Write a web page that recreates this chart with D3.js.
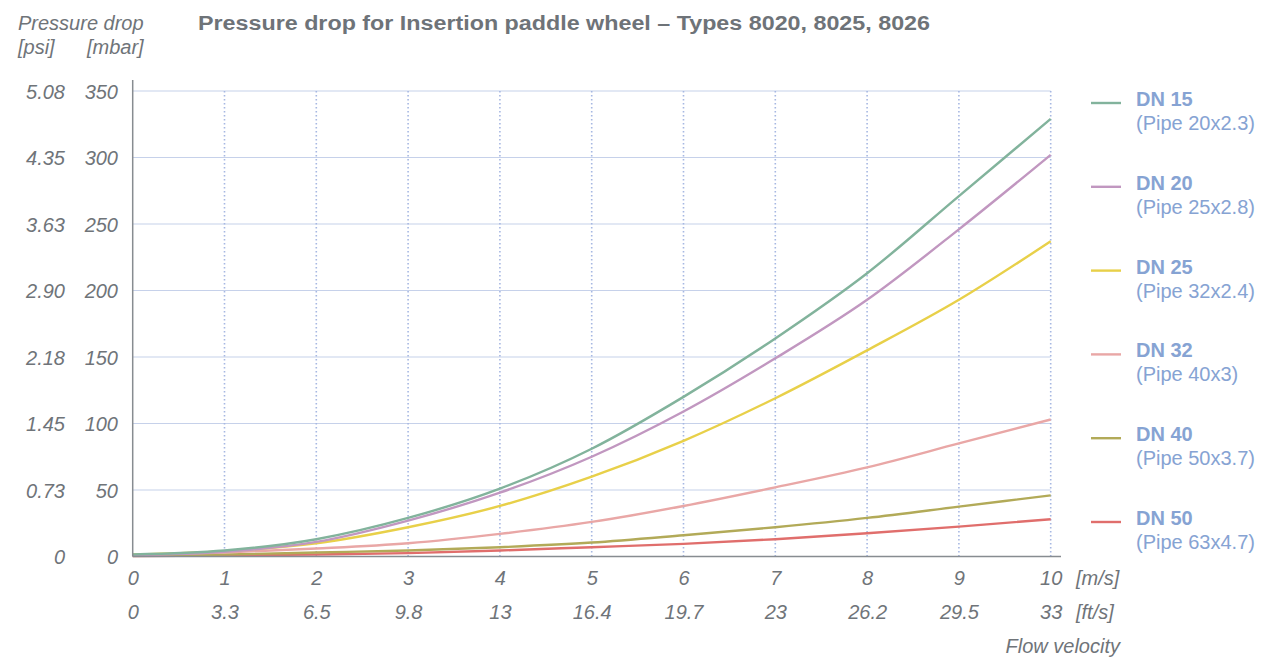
<!DOCTYPE html>
<html>
<head>
<meta charset="utf-8">
<script src="https://cdn.jsdelivr.net/npm/d3@7"></script>
<style>
  body { margin: 0; background: #fff; }
  text { font-family: "Liberation Sans", Arial, sans-serif; }
</style>
</head>
<body>
<script>
// flow velocity [m/s] and the matching ft/s labels
const velocity = [0, 1, 2, 3, 4, 5, 6, 7, 8, 9, 10];
const ftsLabels = ["0", "3.3", "6.5", "9.8", "13", "16.4", "19.7", "23", "26.2", "29.5", "33"];

// mbar ticks and the psi labels next to them
const mbarTicks = [0, 50, 100, 150, 200, 250, 300, 350];
const psiLabels = ["0", "0.73", "1.45", "2.18", "2.90", "3.63", "4.35", "5.08"];

// pressure drop [mbar] read at each velocity
const dn15 = [1.5, 4.5, 13, 29, 51, 81, 120, 164, 213, 271, 329];
const dn20 = [1, 3.5, 11, 27, 48, 75, 109, 149, 193, 246, 302];
const dn25 = [1.5, 4, 10, 22, 38, 60, 87, 119, 155, 193, 237];
const dn32 = [1, 3, 6, 10, 17, 26, 38, 52, 67, 85, 103];
const dn40 = [0.5, 1.5, 3, 4.5, 7, 10.5, 16, 22, 29, 37.5, 46];
const dn50 = [0.3, 0.8, 1.5, 2.5, 4.5, 7, 9.5, 13, 17.5, 22.5, 28];

const seriesNames = ["DN 15", "DN 20", "DN 25", "DN 32", "DN 40", "DN 50"];
const pipeNames = ["(Pipe 20x2.3)", "(Pipe 25x2.8)", "(Pipe 32x2.4)", "(Pipe 40x3)", "(Pipe 50x3.7)", "(Pipe 63x4.7)"];
const seriesColors = ["#82b39c", "#c197c0", "#e8d049", "#e9a7a6", "#b2aa58", "#e06e6c"];

const series = [dn15, dn20, dn25, dn32, dn40, dn50];

const W = 1262, H = 659;
const plotLeft = 132.7, plotRight = 1050.7, plotTop = 91, plotBottom = 556.5;
const axisGray = "#6f7479";
const legendBlue = "#86a3d3";
const fontSize = "20px";

const svg = d3.select("body").append("svg")
    .attr("width", W)
    .attr("height", H);

const x = d3.scaleLinear().domain([0, 10]).range([plotLeft, plotRight]);
const y = d3.scaleLinear().domain([0, 350]).range([plotBottom, plotTop]);

// horizontal grid
svg.append("g")
    .selectAll("line")
    .data(mbarTicks.filter(d => d > 0))
    .enter().append("line")
    .attr("x1", plotLeft).attr("x2", plotRight)
    .attr("y1", d => y(d)).attr("y2", d => y(d))
    .attr("stroke", "#c6d1ea")
    .attr("stroke-width", 1.2);

// vertical dotted grid
svg.append("g")
    .selectAll("line")
    .data(velocity.filter(d => d > 0))
    .enter().append("line")
    .attr("x1", d => x(d)).attr("x2", d => x(d))
    .attr("y1", plotTop).attr("y2", plotBottom)
    .attr("stroke", "#a6b7e2")
    .attr("stroke-width", 1.6)
    .attr("stroke-dasharray", "1.5,2.5");

// curves
const line = d3.line()
    .x((d, i) => x(velocity[i]))
    .y(d => y(d))
    .curve(d3.curveMonotoneX);

svg.append("g")
    .selectAll("path")
    .data(series.slice().reverse())
    .enter().append("path")
    .attr("d", d => line(d))
    .attr("fill", "none")
    .attr("stroke", (d, i) => seriesColors[series.length - 1 - i])
    .attr("stroke-width", 2.4);

// axis lines
svg.append("line")
    .attr("x1", plotLeft).attr("x2", plotLeft)
    .attr("y1", 80).attr("y2", plotBottom)
    .attr("stroke", "#878c91").attr("stroke-width", 1.5);
svg.append("line")
    .attr("x1", plotLeft).attr("x2", 1061)
    .attr("y1", plotBottom).attr("y2", plotBottom)
    .attr("stroke", "#878c91").attr("stroke-width", 1.5);

// y axes (mbar and psi)
const mbarAxis = d3.axisLeft(y).tickValues(mbarTicks).tickSize(0).tickPadding(0);
const gm = svg.append("g").attr("transform", "translate(118,0)").call(mbarAxis);
const psiAxis = d3.axisLeft(y).tickValues(mbarTicks).tickSize(0).tickPadding(0)
    .tickFormat((d, i) => psiLabels[i]);
const gp = svg.append("g").attr("transform", "translate(65,0)").call(psiAxis);

// x axes (m/s and ft/s)
const msAxis = d3.axisBottom(x).tickValues(velocity).tickSize(0).tickPadding(0)
    .tickFormat(d => d);
const gx = svg.append("g").attr("transform", "translate(0,585)").call(msAxis);
const ftAxis = d3.axisBottom(x).tickValues(velocity).tickSize(0).tickPadding(0)
    .tickFormat((d, i) => ftsLabels[i]);
const gf = svg.append("g").attr("transform", "translate(0,619)").call(ftAxis);

[gm, gp, gx, gf].forEach(g => {
    g.select(".domain").remove();
    g.selectAll("text")
        .attr("fill", axisGray)
        .style("font-size", fontSize)
        .style("font-style", "italic")
        .style("font-family", "\"Liberation Sans\", Arial, sans-serif");
});
gm.selectAll("text").attr("dy", "0.36em");
gp.selectAll("text").attr("dy", "0.36em");
gx.selectAll("text").attr("dy", 0);
gf.selectAll("text").attr("dy", 0);

// axis titles
const label = (tx, ty, str, anchor) => svg.append("text")
    .attr("x", tx).attr("y", ty)
    .attr("text-anchor", anchor || "start")
    .attr("fill", axisGray)
    .style("font-size", fontSize)
    .style("font-style", "italic")
    .text(str);

label(18, 30, "Pressure drop");
label(18, 54, "[psi]");
label(87, 54, "[mbar]");
label(1076, 585, "[m/s]");
label(1076, 619, "[ft/s]");
label(1120, 653, "Flow velocity", "end");

// title
svg.append("text")
    .attr("x", 198).attr("y", 30)
    .attr("fill", "#6e7378")
    .style("font-size", "20px")
    .style("font-weight", "bold")
    .attr("textLength", 732)
    .attr("lengthAdjust", "spacingAndGlyphs")
    .text("Pressure drop for Insertion paddle wheel \u2013 Types 8020, 8025, 8026");

// legend
const legend = svg.append("g")
    .selectAll("g")
    .data(seriesNames)
    .enter().append("g")
    .attr("transform", (d, i) => `translate(1091, ${103 + i * 83.8})`);

legend.append("line")
    .attr("x1", 0).attr("x2", 30)
    .attr("stroke", (d, i) => seriesColors[i])
    .attr("stroke-width", 2.4);

legend.append("text")
    .attr("x", 45).attr("y", 3)
    .attr("fill", legendBlue)
    .style("font-size", fontSize)
    .style("font-weight", "bold")
    .text(d => d);

legend.append("text")
    .attr("x", 45).attr("y", 27)
    .attr("fill", legendBlue)
    .style("font-size", fontSize)
    .text((d, i) => pipeNames[i]);
</script>
</body>
</html>
